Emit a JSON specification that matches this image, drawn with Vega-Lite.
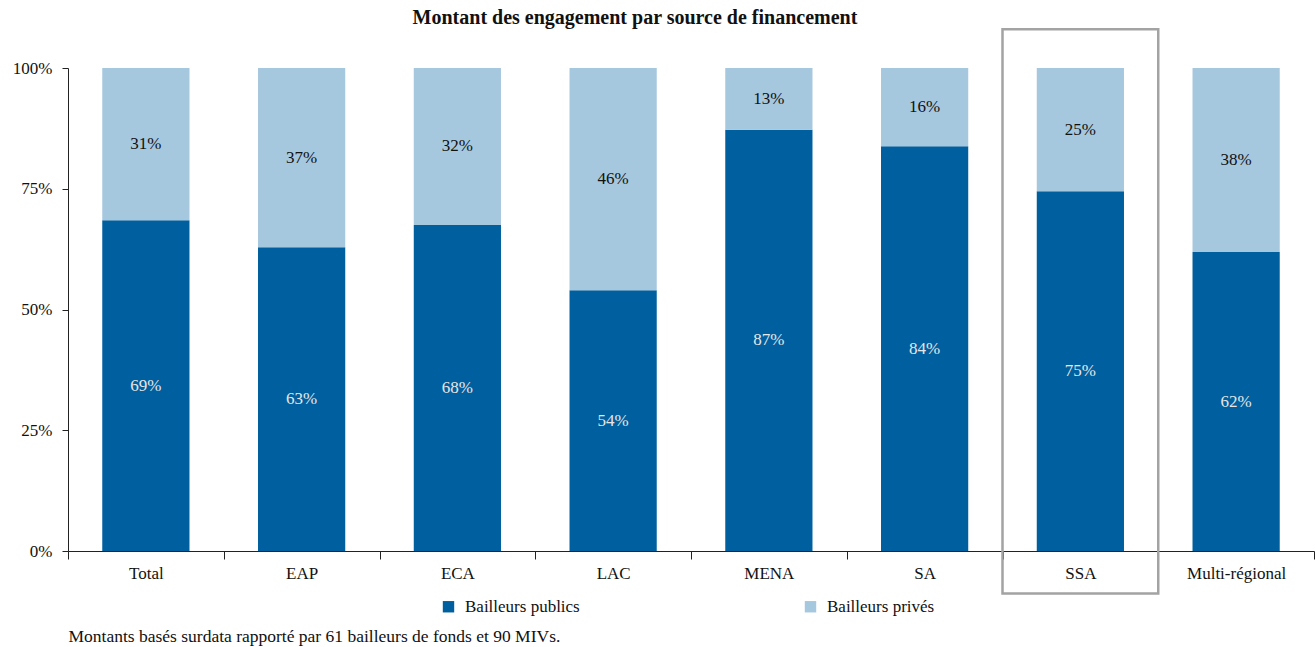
{
  "$schema": "https://vega.github.io/schema/vega-lite/v6.json",
  "autosize": "none",
  "width": 1246,
  "height": 483,
  "padding": {"left": 68, "top": 68, "right": 1, "bottom": 96},
  "background": "white",
  "config": {
    "font": "Liberation Serif",
    "view": {"stroke": null},
    "axis": {"labelFont": "Liberation Serif", "titleFont": "Liberation Serif", "labelColor": "#111", "domainColor": "#222", "tickColor": "#222"},
    "legend": {"labelFont": "Liberation Serif"},
    "title": {"font": "Liberation Serif"}
  },
  "title": {
    "text": "Montant des engagement par source de financement",
    "font": "Liberation Serif",
    "fontSize": 20,
    "fontWeight": "bold",
    "color": "#111",
    "anchor": "middle",
    "dx": -56,
    "offset": 0
  },
  "datasets": {
    "bars": [
      {"region": "Total", "source": "Bailleurs publics", "value": 0.685, "label": "69%"},
      {"region": "Total", "source": "Bailleurs privés", "value": 0.315, "label": "31%"},
      {"region": "EAP", "source": "Bailleurs publics", "value": 0.629, "label": "63%"},
      {"region": "EAP", "source": "Bailleurs privés", "value": 0.371, "label": "37%"},
      {"region": "ECA", "source": "Bailleurs publics", "value": 0.675, "label": "68%"},
      {"region": "ECA", "source": "Bailleurs privés", "value": 0.325, "label": "32%"},
      {"region": "LAC", "source": "Bailleurs publics", "value": 0.540, "label": "54%"},
      {"region": "LAC", "source": "Bailleurs privés", "value": 0.460, "label": "46%"},
      {"region": "MENA", "source": "Bailleurs publics", "value": 0.872, "label": "87%"},
      {"region": "MENA", "source": "Bailleurs privés", "value": 0.128, "label": "13%"},
      {"region": "SA", "source": "Bailleurs publics", "value": 0.838, "label": "84%"},
      {"region": "SA", "source": "Bailleurs privés", "value": 0.162, "label": "16%"},
      {"region": "SSA", "source": "Bailleurs publics", "value": 0.745, "label": "75%"},
      {"region": "SSA", "source": "Bailleurs privés", "value": 0.255, "label": "25%"},
      {"region": "Multi-régional", "source": "Bailleurs publics", "value": 0.619, "label": "62%"},
      {"region": "Multi-régional", "source": "Bailleurs privés", "value": 0.381, "label": "38%"}
    ],
    "box": [{"region": "SSA", "top": 1.08, "bottom": -0.088}]
  },
  "encoding": {
    "x": {
      "field": "region",
      "type": "nominal",
      "sort": ["Total", "EAP", "ECA", "LAC", "MENA", "SA", "SSA", "Multi-régional"],
      "scale": {"paddingInner": 0, "paddingOuter": 0},
      "axis": {
        "labelAngle": 0,
        "labelFont": "Liberation Serif",
        "labelFontSize": 17,
        "labelPadding": 6,
        "tickBand": "extent",
        "tickSize": 8,
        "title": "Montants basés surdata rapporté par 61 bailleurs de fonds et 90 MIVs.",
        "titleFont": "Liberation Serif",
        "titleFontSize": 17.5,
        "titleFontWeight": "normal",
        "titleColor": "#111",
        "titleAnchor": "start",
        "titleAlign": "left",
        "titleX": 0,
        "titleY": 90,
        "titleBaseline": "alphabetic"
      }
    }
  },
  "layer": [
    {
      "data": {"name": "bars"},
      "mark": {"type": "bar", "width": {"band": 0.56}},
      "encoding": {
        "y": {
          "field": "value",
          "type": "quantitative",
          "stack": "zero",
          "scale": {"domain": [0, 1], "nice": false},
          "axis": {
            "format": ".0%",
            "values": [0, 0.25, 0.5, 0.75, 1],
            "grid": false,
            "title": null,
            "labelFont": "Liberation Serif",
            "labelFontSize": 17,
            "tickSize": 6,
            "labelPadding": 10
          }
        },
        "color": {
          "field": "source",
          "type": "nominal",
          "scale": {"domain": ["Bailleurs publics", "Bailleurs privés"], "range": ["#005F9E", "#A6C8DF"]},
          "legend": {
            "orient": "none",
            "direction": "horizontal",
            "columns": 2,
            "columnPadding": 222,
            "legendX": 372,
            "legendY": 530,
            "title": null,
            "symbolType": "square",
            "symbolSize": 130,
            "symbolStrokeWidth": 0,
            "labelFontSize": 17,
            "labelColor": "#111",
            "labelOffset": 8,
            "labelFont": "Liberation Serif"
          }
        },
        "order": {"field": "source", "sort": "descending"}
      }
    },
    {
      "data": {"name": "bars"},
      "mark": {"type": "text", "fontSize": 17, "font": "Liberation Serif", "baseline": "middle"},
      "encoding": {
        "y": {"field": "value", "type": "quantitative", "stack": "zero", "bandPosition": 0.5},
        "text": {"field": "label"},
        "detail": {"field": "source"},
        "order": {"field": "source", "sort": "descending"},
        "color": {
          "condition": {"test": "datum.source === 'Bailleurs publics'", "value": "#e6e6e6"},
          "value": "#111"
        }
      }
    },
    {
      "data": {"name": "box"},
      "mark": {"type": "rect", "width": {"band": 1}, "fill": null, "stroke": "#A3A3A3", "strokeWidth": 2.5, "clip": false},
      "encoding": {
        "y": {"field": "top", "type": "quantitative"},
        "y2": {"field": "bottom"}
      }
    }
  ]
}
